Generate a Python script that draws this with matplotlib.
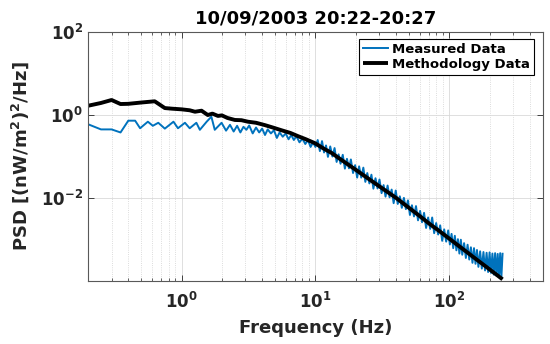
"""PSD comparison: measured spectrum vs methodology curve, 10/09/2003 20:22-20:27."""
import matplotlib
matplotlib.use("Agg")
import matplotlib.pyplot as plt
from matplotlib.ticker import LogLocator, NullFormatter, NullLocator

# --- data ----------------------------------------------------------------
MEAS_FREQ = [
    0.20, 0.25, 0.30, 0.35, 0.40, 0.45, 0.49, 0.56, 0.61, 0.67, 0.75, 0.87,
    0.94, 1.06, 1.15, 1.29, 1.37, 1.54, 1.67, 1.77, 1.99,
    2.15, 2.3, 2.45, 2.6, 2.75, 2.9, 3.05, 3.2, 3.4, 3.6, 3.8, 4.0, 4.2,
    4.4, 4.65, 4.9, 5.15, 5.4, 5.7, 6.0, 6.3, 6.6, 6.9, 7.2, 7.6, 8.0, 8.4,
    8.8, 9.2, 9.6, 10.0,
    10.4, 10.8, 11.2, 11.6, 12.0, 12.4, 12.9, 13.4, 13.9, 14.4, 14.9, 15.4,
    16.0, 16.6, 17.2, 17.8, 18.4, 19.1, 19.8, 20.5, 21.2, 22.0, 22.8, 23.6,
    24.4, 25.3, 26.2, 27.1, 28.1, 29.1, 30.1, 31.2, 32.3, 33.4, 34.6, 35.8,
    37.1, 38.4, 39.8, 41.2, 42.7, 44.2, 45.8, 47.4, 49.1, 50.8, 52.6, 54.5,
    56.4, 58.4, 60.5, 62.6, 64.8, 67.1, 69.5, 72.0, 74.5, 77.1, 79.8, 82.6,
    85.5, 88.5, 91.6, 94.8, 98.1,
    101, 104, 107, 110, 113, 116, 119, 122, 125, 129, 133, 137, 141, 145,
    149, 153, 157, 161, 165, 170, 175, 180, 185, 190, 195, 200, 205, 210,
    215, 220, 225, 230, 235, 240, 245, 250,
]
MEAS_PSD = [
    0.60, 0.45, 0.45, 0.38, 0.73, 0.73, 0.48, 0.69, 0.55, 0.65, 0.47, 0.69,
    0.48, 0.65, 0.48, 0.65, 0.44, 0.69, 0.91, 0.44, 0.65,
    0.42, 0.58, 0.40, 0.55, 0.38, 0.52, 0.44, 0.56, 0.36, 0.50, 0.38, 0.47,
    0.33, 0.45, 0.36, 0.43, 0.28, 0.38, 0.30, 0.36, 0.26, 0.33, 0.25, 0.31,
    0.22, 0.27, 0.20, 0.25, 0.17, 0.22, 0.17,
    0.25, 0.135, 0.235, 0.125, 0.185, 0.098, 0.175, 0.100, 0.160, 0.074,
    0.113, 0.067, 0.110, 0.051, 0.088, 0.052, 0.085, 0.040, 0.062,
    0.031, 0.058, 0.031, 0.054, 0.0245, 0.040, 0.0225, 0.0365, 0.0168,
    0.030, 0.0170, 0.0280, 0.0131, 0.0205, 0.0108, 0.0200, 0.0104, 0.0160,
    0.0075, 0.0152, 0.0072, 0.0110, 0.0058, 0.0101, 0.0054, 0.0088,
    0.0039, 0.0067, 0.0036, 0.0064, 0.0029, 0.0049, 0.0026, 0.0044,
    0.0019, 0.0034, 0.0018, 0.0034, 0.00142, 0.0025, 0.00132, 0.0022,
    0.00093, 0.00176, 0.00089, 0.00166,
    7.6e-4, 1.37e-3, 6.2e-4, 1.23e-3, 5.5e-4, 1.02e-3, 4.6e-4, 9.9e-4,
    4.3e-4, 8.2e-4, 3.6e-4, 7.5e-4, 3.3e-4, 6.5e-4, 2.75e-4, 6.2e-4,
    2.6e-4, 5.6e-4, 2.2e-4, 5.2e-4, 2.0e-4, 5.0e-4, 1.8e-4, 4.8e-4,
    1.65e-4, 4.9e-4, 1.57e-4, 4.6e-4, 1.43e-4, 4.7e-4, 1.35e-4, 4.5e-4,
    1.27e-4, 4.7e-4, 1.22e-4, 4.55e-4,
]

METH_FREQ = [
    0.2, 0.25, 0.3, 0.35, 0.4, 0.5, 0.63, 0.75, 0.85, 1.0, 1.15, 1.26, 1.41,
    1.57, 1.7, 1.87, 2.0, 2.2, 2.5, 2.8, 3.13, 3.6, 4.2, 4.8, 5.57, 6.5, 7.4,
    8.5, 9.9, 11.5, 13.2, 15, 17.5, 20, 22.7, 27, 32, 40, 50, 60, 71, 85,
    100, 130, 160, 189, 220, 250,
]
METH_PSD = [
    1.67, 1.95, 2.3, 1.84, 1.86, 2.0, 2.14, 1.47, 1.42, 1.37, 1.30, 1.20,
    1.27, 1.0, 1.08, 0.95, 0.98, 0.85, 0.76, 0.75, 0.69, 0.65, 0.57, 0.50,
    0.43, 0.37, 0.31, 0.26, 0.21, 0.156, 0.122, 0.091, 0.0644, 0.048, 0.036,
    0.0243, 0.0166, 0.0101, 0.0058, 0.0037, 0.0024, 0.00157, 0.00105,
    0.00055, 0.00033, 0.00022, 0.000151, 0.00011,
]

TITLE = "10/09/2003 20:22-20:27"

plt.rcParams["font.family"] = ["DejaVu Sans"]
plt.rcParams["font.weight"] = "bold"
plt.rcParams["mathtext.fontset"] = "dejavusans"
plt.rcParams["mathtext.default"] = "bf"

fig = plt.figure(figsize=(5.5, 3.44), dpi=100)
ax = fig.add_axes([0.16, 0.183, 0.827, 0.724])

ax.plot(MEAS_FREQ, MEAS_PSD, color="#0072BD", linewidth=1.4,
        label="Measured Data")
ax.plot(METH_FREQ, METH_PSD, color="black", linewidth=2.8,
        label="Methodology Data", solid_capstyle="butt")

ax.set_xscale("log")
ax.set_yscale("log")
ax.set_xlim(0.2, 500)
ax.set_ylim(1e-4, 1e2)
ax.set_xticks([1, 10, 100])
ax.set_yticks([1e-2, 1, 1e2])
ax.xaxis.set_minor_locator(LogLocator(base=10, subs=range(2, 10), numticks=20))
ax.xaxis.set_minor_formatter(NullFormatter())
ax.yaxis.set_minor_locator(NullLocator())

ax.tick_params(which="both", direction="in", top=True, right=True,
               colors="0.15", labelsize=12)
ax.tick_params(which="major", length=4, width=0.6)
ax.tick_params(which="minor", length=2, width=0.5)
ax.tick_params(axis="x", which="major", pad=8)
for sp in ax.spines.values():
    sp.set_color("0.35")
    sp.set_linewidth(0.8)

ax.grid(True, which="major", color="0.85", linewidth=0.6)
ax.grid(True, which="minor", axis="x", color="0.82", linestyle=":",
        linewidth=0.6)
ax.set_axisbelow(True)

ax.set_xlabel("Frequency (Hz)", fontsize=13, fontweight="bold", labelpad=5,
              color="0.15")
ax.set_ylabel("PSD [(nW/m$^{2}$)$^{2}$/Hz]", fontsize=13, fontweight="bold",
              labelpad=7, color="0.15")
ax.set_title(TITLE, fontsize=13, fontweight="bold", pad=6)

leg = ax.legend(loc="upper right", bbox_to_anchor=(0.98, 0.972),
                borderaxespad=0, fontsize=9.5, fancybox=False,
                edgecolor="black", framealpha=1, handlelength=1.9,
                handletextpad=0.3, labelspacing=0.15, borderpad=0.3)
leg.get_frame().set_linewidth(0.8)

fig.savefig("out.png", dpi=100)
